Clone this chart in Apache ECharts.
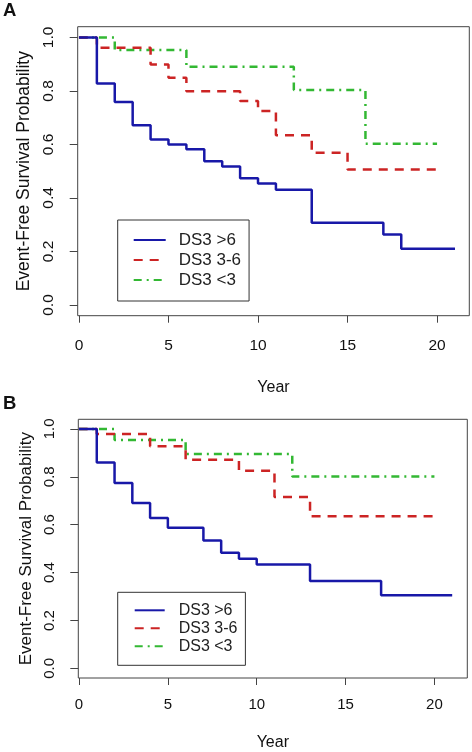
<!DOCTYPE html>
<html><head><meta charset="utf-8">
<script src="https://cdn.jsdelivr.net/npm/echarts@6/dist/echarts.min.js"></script>
<style>html,body{margin:0;padding:0;background:#fff}#c{width:472px;height:752px}</style>
</head><body><div id="c"></div>
<script>
// ---- data ----
const seriesNames = ['DS3 >6', 'DS3 3-6', 'DS3 <3'];
const panelLabels = ['A', 'B'];
const xTicks = [0, 5, 10, 15, 20];
const yTicks = [0, 0.2, 0.4, 0.6, 0.8, 1.0];
const xTitle = 'Year';
const yTitle = 'Event-Free Survival Probability';

// Panel A
const aHighYears = [0, 1, 2, 3, 4, 5, 6, 7, 8, 9, 10, 11, 13, 17, 18, 21];
const aHighSurv  = [1, 0.828, 0.759, 0.672, 0.618, 0.600, 0.582, 0.537, 0.518, 0.474, 0.454, 0.431, 0.307, 0.263, 0.210, 0.210];
const aMidYears  = [0, 1, 4, 5, 6, 9, 10, 11, 13, 15, 20];
const aMidSurv   = [1, 0.961, 0.899, 0.849, 0.799, 0.762, 0.725, 0.634, 0.569, 0.506, 0.506];
const aLowYears  = [0, 2, 6, 12, 16, 20];
const aLowSurv   = [1, 0.953, 0.890, 0.803, 0.603, 0.603];

// Panel B
const bHighYears = [0, 1, 2, 3, 4, 5, 7, 8, 9, 10, 13, 17, 21];
const bHighSurv  = [1, 0.860, 0.774, 0.691, 0.628, 0.587, 0.534, 0.483, 0.458, 0.434, 0.365, 0.305, 0.305];
const bMidYears  = [0, 1, 4, 6, 9, 11, 13, 20];
const bMidSurv   = [1, 0.979, 0.927, 0.871, 0.825, 0.716, 0.635, 0.635];
const bLowYears  = [0, 2, 6, 12, 20];
const bLowSurv   = [1, 0.954, 0.895, 0.801, 0.801];

// ---- styling ----
const FONT = 'Liberation Sans, Arial, sans-serif';
const colors = ['#1818a8', '#cc2424', '#33b833'];
const lineTypes = ['solid', [9, 7], [8, 5, 2, 5]];
const zip = (xs, ys) => xs.map((x, i) => [x, ys[i]]);

const panels = [
  [[aHighYears, aHighSurv], [aMidYears, aMidSurv], [aLowYears, aLowSurv]],
  [[bHighYears, bHighSurv], [bMidYears, bMidSurv], [bLowYears, bLowSurv]]
];

const series = [];
panels.forEach((p, pi) => {
  p.forEach((s, si) => {
    series.push({
      name: seriesNames[si], type: 'line', step: 'end',
      xAxisIndex: pi, yAxisIndex: pi,
      symbol: 'none', showSymbol: false,
      data: zip(s[0], s[1]),
      lineStyle: { color: colors[si], width: 2.5, type: lineTypes[si] },
      itemStyle: { color: colors[si] },
      z: 3 - si
    });
  });
});

function xAx(gi, min, max, fs, margin, nameGap) {
  return {
    type: 'value', gridIndex: gi, min: min, max: max,
    axisLine: { show: false, onZero: false },
    axisTick: { show: true, inside: false, customValues: xTicks, length: 7, lineStyle: { color: '#444', width: 1 } },
    axisLabel: { customValues: xTicks, margin: margin, fontSize: fs, color: '#111', fontFamily: FONT },
    splitLine: { show: false },
    name: xTitle, nameLocation: 'middle', nameGap: nameGap,
    nameTextStyle: { fontSize: 16, color: '#111', fontFamily: FONT }
  };
}
function yAx(gi, fs, margin, nameGap, nfs) {
  return {
    type: 'value', gridIndex: gi, min: -0.04, max: 1.04,
    axisLine: { show: false, onZero: false },
    axisTick: { show: true, inside: false, customValues: yTicks, length: 8, lineStyle: { color: '#444', width: 1 } },
    axisLabel: { customValues: yTicks, rotate: 90, margin: margin, fontSize: fs, color: '#111', fontFamily: FONT,
                 formatter: v => v.toFixed(1) },
    splitLine: { show: false },
    name: yTitle, nameLocation: 'middle', nameRotate: 90, nameGap: nameGap,
    nameTextStyle: { fontSize: nfs, color: '#111', fontFamily: FONT }
  };
}

const legendBase = {
  data: seriesNames, orient: 'vertical', itemGap: 0,
  borderColor: '#333', borderWidth: 1, selectedMode: false,
  itemStyle: { opacity: 0, color: 'transparent', borderWidth: 0 }
};

const chart = echarts.init(document.getElementById('c'), null, { renderer: 'canvas' });
chart.setOption({
  animation: false,
  backgroundColor: '#fff',
  title: [
    { text: panelLabels[0], left: 3, top: 1, padding: 0, textStyle: { fontSize: 18.5, fontWeight: 'bold', color: '#111', fontFamily: FONT } },
    { text: panelLabels[1], left: 3, top: 394, padding: 0, textStyle: { fontSize: 18.5, fontWeight: 'bold', color: '#111', fontFamily: FONT } }
  ],
  grid: [
    { left: 77.7, top: 26.7, width: 391.6, height: 289, show: true, borderColor: '#444', borderWidth: 1, containLabel: false },
    { left: 78.3, top: 419.3, width: 389, height: 260.7, show: true, borderColor: '#444', borderWidth: 1, containLabel: false }
  ],
  xAxis: [xAx(0, -0.07, 21.8, 15.5, 22, 64), xAx(1, -0.04, 21.85, 15, 19.5, 57)],
  yAxis: [yAx(0, 15.5, 21, 39.5, 17.5), yAx(1, 15, 21, 40, 17)],
  legend: [
    Object.assign({}, legendBase, { left: 117.7, top: 220, padding: [10, 8, 11, 15],
      itemWidth: 32, itemHeight: 20,
      textStyle: { fontSize: 17, lineHeight: 20, color: '#222', fontFamily: FONT, padding: [0, 0, 0, 8] } }),
    Object.assign({}, legendBase, { left: 117.7, top: 592.3, padding: [9, 8, 10, 16],
      itemWidth: 30, itemHeight: 18,
      textStyle: { fontSize: 16, lineHeight: 18, color: '#222', fontFamily: FONT, padding: [0, 0, 0, 9] } })
  ],
  series: series
});
</script></body></html>
